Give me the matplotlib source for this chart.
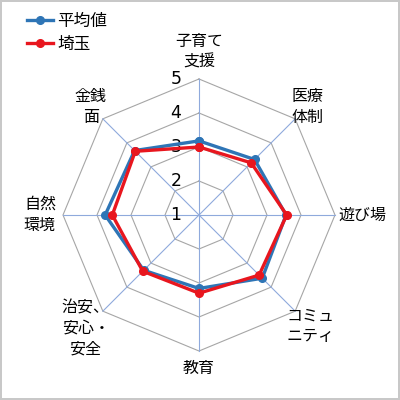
import numpy as np
import matplotlib
matplotlib.use('Agg')
import matplotlib.pyplot as plt

plt.rcParams['font.family'] = ['Noto Sans CJK JP', 'DejaVu Sans']

categories = ['子育て\n支援', '医療\n体制', '遊び場', 'コミュ\nニティ', '教育',
              '治安、\n安心・\n安全', '自然\n環境', '金銭\n面']
avg_vals = [3.18, 3.31, 3.56, 3.63, 3.16, 3.30, 3.76, 3.68]
saitama_vals = [3.00, 3.17, 3.58, 3.50, 3.30, 3.34, 3.55, 3.65]
ticks = [1, 2, 3, 4, 5]
series_names = ['平均値', '埼玉']

# label distance from centre (layout only)
label_r = [4.80, 4.50, 4.82, 4.62, 4.50, 4.72, 4.68, 4.50]

rmin, rmax = 1, 5
n = len(categories)
ang = np.pi / 2 - np.arange(n) * 2 * np.pi / n


def xy(vals):
    r = np.asarray(vals, dtype=float) - rmin
    r = np.append(r, r[0])
    a = np.append(ang, ang[0])
    return r * np.cos(a), r * np.sin(a)


fig = plt.figure(figsize=(4, 4), dpi=100)
fig.patch.set_edgecolor('#C8C8C8')
fig.patch.set_linewidth(1.5)
ax = fig.add_axes([0, 0, 1, 1])
ax.set_xlim(-199 / 34, 201 / 34)
ax.set_ylim(-185 / 34, 215 / 34)
ax.set_aspect('equal')
ax.axis('off')

# octagon rings
for t in ticks[1:]:
    gx, gy = xy([t] * n)
    ax.plot(gx, gy, color='#A6A6A6', lw=0.8, zorder=1)
# spokes
R = rmax - rmin
for a in ang:
    ax.plot([0, R * np.cos(a)], [0, R * np.sin(a)], color='#8FAADC', lw=0.8, zorder=1)

# tick labels
for t in ticks:
    ax.text(-0.68, t - rmin, str(t), ha='center', va='center', fontsize=12.5,
            family='DejaVu Sans', zorder=2)

# category labels
for lab, a, rl in zip(categories, ang, label_r):
    ax.text(rl * np.cos(a), rl * np.sin(a), lab, ha='center', va='center',
            fontsize=11.5, linespacing=1.3)

bx, by = xy(avg_vals)
ax.plot(bx, by, color='#2E75B6', lw=2.4, marker='o', ms=5.5, zorder=3,
        label=series_names[0])
rx, ry = xy(saitama_vals)
ax.plot(rx, ry, color='#E8161E', lw=2.4, marker='o', ms=5.5, zorder=4,
        label=series_names[1])

ax.legend(loc='upper left', bbox_to_anchor=(0.05, 0.985), frameon=False,
          fontsize=12, handlelength=1.6, handletextpad=0.25, labelspacing=0.4,
          borderaxespad=0)

fig.savefig('out.png', dpi=100, edgecolor=fig.get_edgecolor())
